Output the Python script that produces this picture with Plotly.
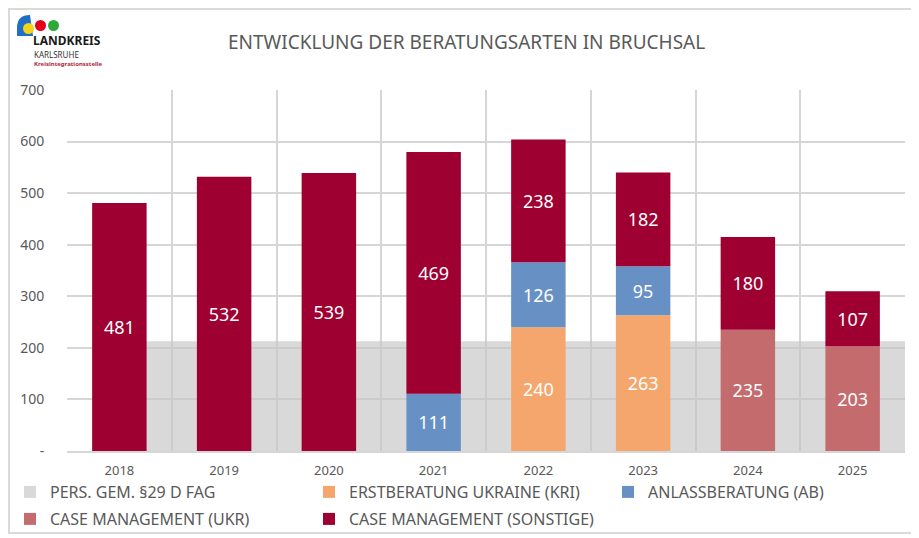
import plotly.graph_objects as go

years = ["2018", "2019", "2020", "2021", "2022", "2023", "2024", "2025"]

pers_fag = [213, 213, 213, 213, 213, 213, 213, 213]
erstberatung_kri = [None, None, None, None, 240, 263, None, None]
anlassberatung = [None, None, None, 111, 126, 95, None, None]
cm_ukr = [None, None, None, None, None, None, 235, 203]
cm_sonstige = [481, 532, 539, 469, 238, 182, 180, 107]

y_ticks = [0, 100, 200, 300, 400, 500, 600, 700]
y_ticktext = ["-", "100", "200", "300", "400", "500", "600", "700"]

# page body adds an 8px offset, so the figure is drawn 8px smaller
OFF = 8
W, H = 919 - OFF, 538 - OFF
L, T = 67 - OFF, 90 - OFF
R = 14
B = H - (451 - OFF)
PW, PH = W - L - R, H - T - B


def px_x(px):
    # px given in window pixels
    return (px - OFF - L) / PW


def px_y(py):
    return (H - B - (py - OFF)) / PH


FONT = "Noto Sans, sans-serif"
TXT = "#595959"

fig = go.Figure()

fig.add_trace(go.Bar(
    x=years, y=pers_fag, offset=0, width=1,
    marker=dict(color="rgba(198,196,198,0.65)", line=dict(width=0)),
    name="PERS. GEM. §29 D FAG", hoverinfo="skip", legend="legend"
))

series = [
    ("ERSTBERATUNG UKRAINE (KRI)", erstberatung_kri, "#F4A66C", "legend"),
    ("ANLASSBERATUNG (AB)", anlassberatung, "#6790C4", "legend"),
    ("CASE MANAGEMENT (UKR)", cm_ukr, "#C46B6E", "legend2"),
    ("CASE MANAGEMENT (SONSTIGE)", cm_sonstige, "#9E0032", "legend2"),
]

bottom = [0] * len(years)
for name, vals, col, leg in series:
    base = list(bottom)
    fig.add_trace(go.Bar(
        x=years, y=vals, base=base, width=0.52,
        marker=dict(color=col, line=dict(width=0)),
        name=name, legend=leg,
        text=[str(v) if v else "" for v in vals],
        textposition="inside", insidetextanchor="middle",
        textangle=0,
        textfont=dict(color="white", size=18, family=FONT),
    ))
    bottom = [b + (v or 0) for b, v in zip(bottom, vals)]

leg_common = dict(
    orientation="h", xanchor="left", yanchor="top",
    entrywidth=254, entrywidthmode="pixels",
    font=dict(size=16, color=TXT, family=FONT),
    traceorder="normal", bgcolor="rgba(0,0,0,0)",
)

fig.update_layout(
    width=W, height=H,
    margin=dict(l=L, r=R, t=T, b=B, autoexpand=False),
    barmode="overlay",
    plot_bgcolor="white", paper_bgcolor="white",
    font=dict(family=FONT, color=TXT),
    showlegend=True,
    legend=dict(x=px_x(10), y=px_y(475), **leg_common),
    legend2=dict(x=px_x(10), y=px_y(502), **leg_common),
    annotations=[
        dict(text="ENTWICKLUNG DER BERATUNGSARTEN IN BRUCHSAL",
             xref="paper", yref="paper", x=px_x(466), y=px_y(42),
             xanchor="center", yanchor="middle", showarrow=False,
             font=dict(size=19, color=TXT, family=FONT)),
        dict(text="<b>LANDKREIS</b>", xref="paper", yref="paper",
             x=px_x(31), y=px_y(40), xanchor="left", yanchor="middle",
             showarrow=False, font=dict(size=12, color="#1a1a1a", family=FONT)),
        dict(text="KARLSRUHE", xref="paper", yref="paper",
             x=px_x(32), y=px_y(54), xanchor="left", yanchor="middle",
             showarrow=False, font=dict(size=8, color="#333333", family=FONT)),
        dict(text="<b>Kreisintegrationsstelle</b>", xref="paper", yref="paper",
             x=px_x(32), y=px_y(64.5), xanchor="left", yanchor="middle",
             showarrow=False, font=dict(size=6, color="#B0283C", family=FONT)),
    ],
    shapes=[
        dict(type="rect", xref="paper", yref="paper",
             x0=px_x(OFF + 1), x1=px_x(914), y0=px_y(533), y1=px_y(OFF + 1),
             line=dict(color="#DADADA", width=2), layer="below"),
        dict(type="path", xref="paper", yref="paper",
             path="M {} {} L {} {} L {} {} Q {} {} {} {} Z".format(
                 px_x(17), px_y(36), px_x(33), px_y(36), px_x(30), px_y(15),
                 px_x(17), px_y(15), px_x(17), px_y(28)),
             fillcolor="#1F6FC5", line=dict(width=0)),
        dict(type="circle", xref="paper", yref="paper",
             x0=px_x(23), x1=px_x(34), y0=px_y(34), y1=px_y(23),
             fillcolor="#F2D21B", line=dict(width=0)),
        dict(type="circle", xref="paper", yref="paper",
             x0=px_x(35), x1=px_x(46), y0=px_y(31), y1=px_y(20),
             fillcolor="#E2001A", line=dict(width=0)),
        dict(type="circle", xref="paper", yref="paper",
             x0=px_x(48), x1=px_x(59), y0=px_y(31), y1=px_y(20),
             fillcolor="#2EA83A", line=dict(width=0)),
    ],
)

fig.update_xaxes(
    type="category", range=[-0.5, 7.5],
    tickson="boundaries", ticks="", ticklabelstandoff=6,
    showgrid=True, gridcolor="#D6D6D6", gridwidth=2,
    showline=True, linecolor="#D6D6D6", linewidth=2,
    tickfont=dict(size=13, color=TXT, family=FONT),
    fixedrange=True,
)
fig.update_yaxes(
    range=[0, 700], tickvals=y_ticks, ticktext=y_ticktext,
    showgrid=True, gridcolor="#D6D6D6", gridwidth=2,
    zeroline=False, ticks="outside", ticklen=19, tickcolor="rgba(0,0,0,0)",
    tickfont=dict(size=14, color=TXT, family=FONT),
    showline=False,
)

fig.write_html("out.html")
